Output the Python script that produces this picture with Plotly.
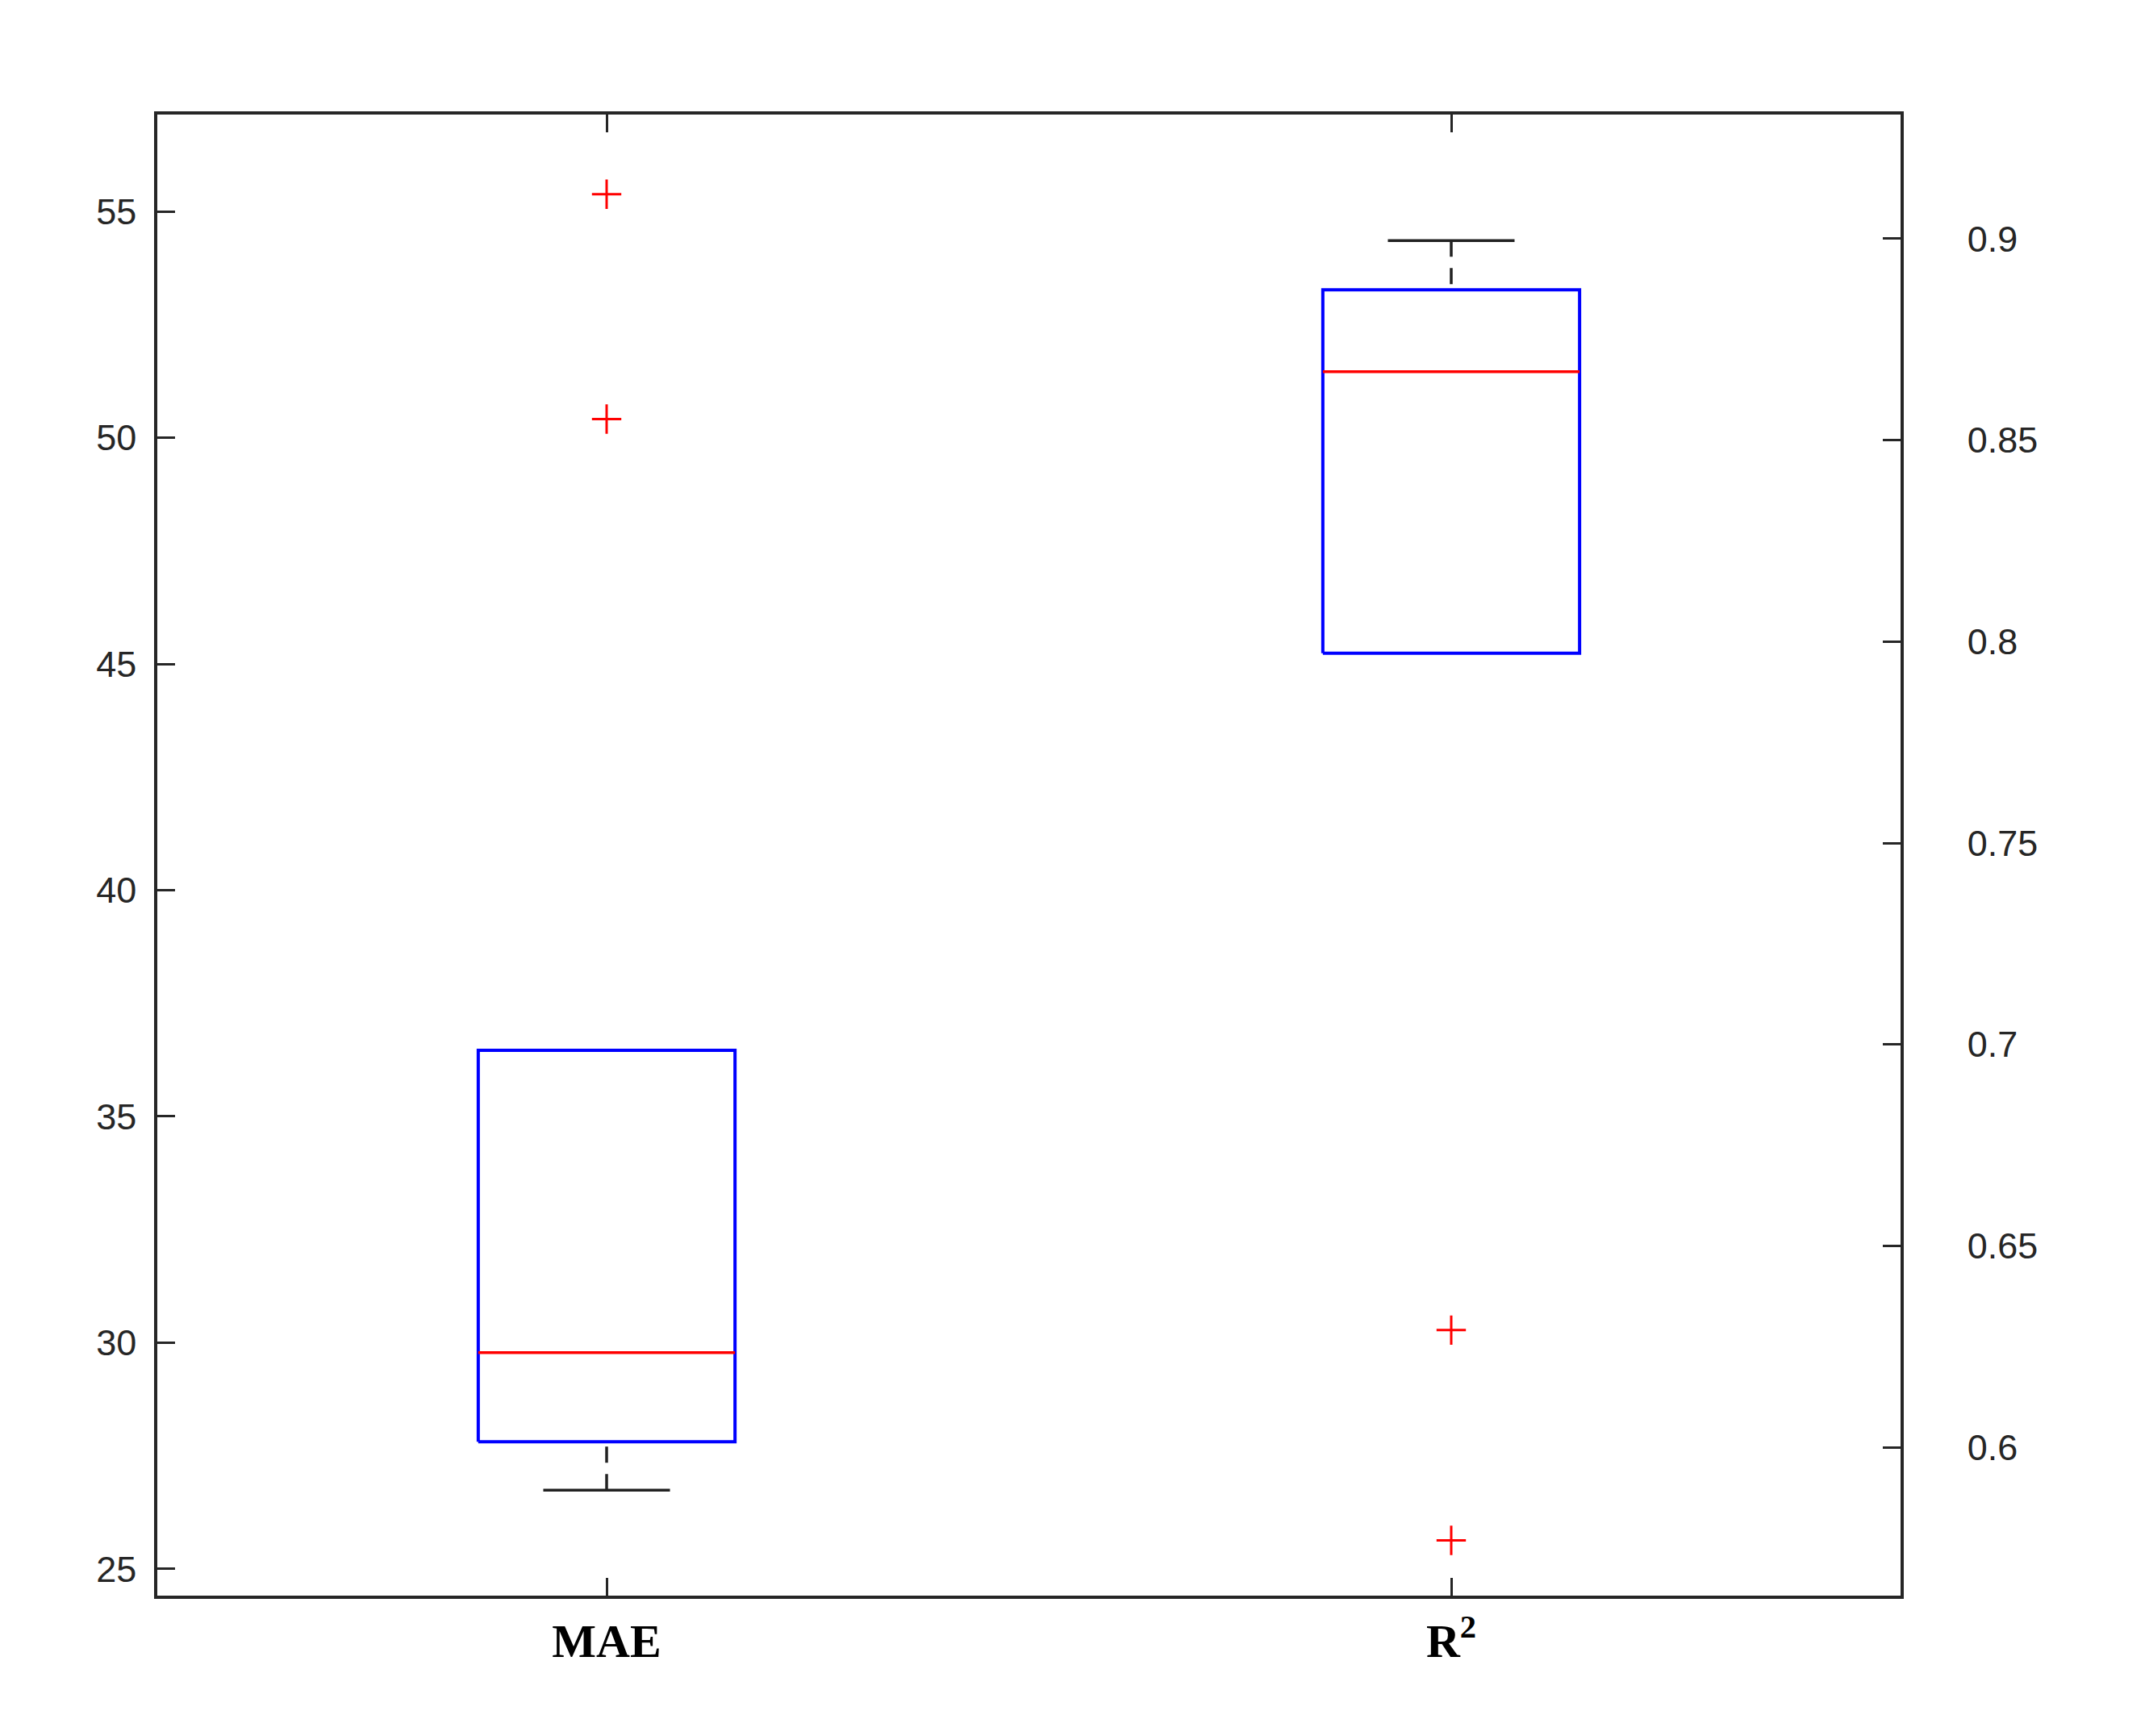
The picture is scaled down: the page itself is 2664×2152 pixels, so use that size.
import plotly.graph_objects as go

# ---- data ----
categories = ["MAE", "R<sup>2</sup>"]
positions = [1, 2]

mae_q1 = 27.81
mae_median = 29.78
mae_q3 = 36.46
mae_lower_whisker = 26.74
mae_upper_whisker = 36.46
mae_outliers = [55.38, 50.41]

r2_q1 = 0.7971
r2_median = 0.8670
r2_q3 = 0.8873
r2_lower_whisker = 0.7971
r2_upper_whisker = 0.8995
r2_outliers = [0.6291, 0.5769]

left_ticks = [25, 30, 35, 40, 45, 50, 55]
right_ticks = [0.6, 0.65, 0.7, 0.75, 0.8, 0.85, 0.9]
right_ticktext = ["0.6", "0.65", "0.7", "0.75", "0.8", "0.85", "0.9"]

# ---- styles ----
BOX_HALF = 0.152
CAP_HALF = 0.075
BLUE = "#0000ff"
RED = "#ff0000"
AXIS = "#262626"

fig = go.Figure()


def add_box(pos, q1, med, q3, lw, uw, outliers, yaxis):
    # box outline
    fig.add_trace(go.Scatter(
        x=[pos - BOX_HALF, pos + BOX_HALF, pos + BOX_HALF, pos - BOX_HALF, pos - BOX_HALF],
        y=[q1, q1, q3, q3, q1], mode="lines",
        line=dict(color=BLUE, width=4), yaxis=yaxis, showlegend=False, hoverinfo="skip"))
    # median
    fig.add_trace(go.Scatter(
        x=[pos - BOX_HALF, pos + BOX_HALF], y=[med, med], mode="lines",
        line=dict(color=RED, width=3.5), yaxis=yaxis, showlegend=False, hoverinfo="skip"))
    # whiskers (dashed) + caps
    for end, edge in ((lw, q1), (uw, q3)):
        if end != edge:
            fig.add_trace(go.Scatter(
                x=[pos, pos], y=[end, edge], mode="lines",
                line=dict(color="#222222", width=3.5, dash="20px,14px"),
                yaxis=yaxis, showlegend=False, hoverinfo="skip"))
            fig.add_trace(go.Scatter(
                x=[pos - CAP_HALF, pos + CAP_HALF], y=[end, end], mode="lines",
                line=dict(color="#222222", width=3.5),
                yaxis=yaxis, showlegend=False, hoverinfo="skip"))
    # outliers
    fig.add_trace(go.Scatter(
        x=[pos] * len(outliers), y=outliers, mode="markers",
        marker=dict(symbol="cross-thin", size=26, line=dict(color=RED, width=3)),
        yaxis=yaxis, showlegend=False))


add_box(positions[0], mae_q1, mae_median, mae_q3, mae_lower_whisker,
        mae_upper_whisker, mae_outliers, "y")
add_box(positions[1], r2_q1, r2_median, r2_q3, r2_lower_whisker,
        r2_upper_whisker, r2_outliers, "y2")

fig.update_layout(
    width=2664, height=2152,
    paper_bgcolor="white", plot_bgcolor="white",
    margin=dict(l=187, r=316, t=134, b=182),
    xaxis=dict(
        range=[0.468, 2.532], tickmode="array", tickvals=positions, ticktext=categories,
        ticks="inside", ticklen=22, tickwidth=2.5, tickcolor=AXIS,
        showline=True, linecolor=AXIS, linewidth=3.5, mirror="ticks",
        showgrid=False, zeroline=False,
        tickfont=dict(family="Liberation Serif", size=58, color="#000000", weight="bold"),
        ticklabelstandoff=3,
    ),
    yaxis=dict(
        range=[24.41, 57.14], tickmode="array", tickvals=left_ticks,
        ticks="inside", ticklen=22, tickwidth=2.5, tickcolor=AXIS,
        showline=True, linecolor=AXIS, linewidth=3.5,
        showgrid=False, zeroline=False,
        tickfont=dict(family="Liberation Sans", size=45, color=AXIS),
        ticklabelstandoff=13,
    ),
    yaxis2=dict(
        range=[0.5632, 0.9308], tickmode="array", tickvals=right_ticks, ticktext=right_ticktext,
        overlaying="y", side="right", anchor="x",
        ticks="inside", ticklen=22, tickwidth=2.5, tickcolor=AXIS,
        showline=True, linecolor=AXIS, linewidth=3.5,
        showgrid=False, zeroline=False,
        tickfont=dict(family="Liberation Sans", size=45, color=AXIS),
        ticklabelstandoff=70,
    ),
)

fig.write_html("out.html")
